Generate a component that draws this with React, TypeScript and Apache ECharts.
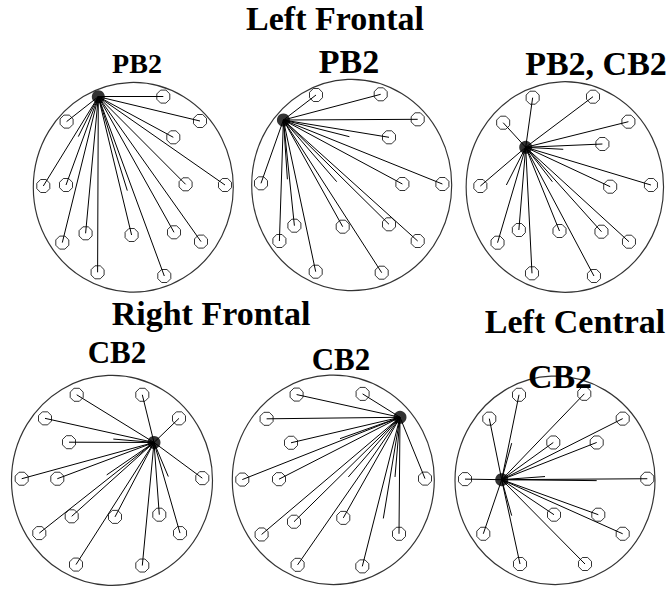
import React, { useEffect, useRef } from "react";
import * as echarts from "echarts";

// Electrode positions per panel, in head coordinates (offset from head centre, y downwards)
const p1Hub = [-35, -90.6];
const p1Electrodes = [
  [30, -90.7], [-66.7, -65.7], [66.7, -66.3], [40, -50], [-90, -1.3], [-67.3, -2.3],
  [52.3, -3], [91.7, -2.3], [-71, 55.3], [-47.7, 46], [-1.7, 47.7], [40.7, 45],
  [67.7, 54.3], [-35.7, 85], [31, 88.7],
];
const p1Stubs = [[-55, -50.7], [-6, 3.3]];

const p2Hub = [-68.3, -65];
const p2Electrodes = [
  [-35.7, -90], [29, -90.7], [66, -65.7], [37.3, -47.7], [-90.7, -1.7], [50.7, -1],
  [90.7, -1], [-57.3, 40.7], [-72.3, 56], [-9, 41.7], [37.3, 39.3], [66, 56],
  [-36, 86.7], [30, 87.7],
];
const p2Stubs = [[-2.3, -48.3], [-15, -3.3], [-64.3, -5.7]];

const p3Hub = [-41.7, -39.7];
const p3Electrodes = [
  [-34.3, -89.3], [30, -90.3], [-65.7, -64.3], [67.7, -65.3], [40, -43], [-90, -1],
  [48.3, -0.3], [91.7, -2], [-71.7, 55.7], [-49, 43], [-5.7, 44], [39, 44.7],
  [68.3, 54.7], [-35, 86.3], [31, 89],
];
const p3Stubs = [[-1.7, -37.7], [-62.3, -2], [-13.3, -5.3]];

const p4Hub = [42, -39.7];
const p4Electrodes = [
  [-35.3, -89.7], [30.3, -89.7], [-67, -65], [67, -65], [-43, -40], [-90.3, -1.7],
  [-54.7, -1.7], [90.3, -2.3], [-72.7, 55.3], [-40.3, 37.7], [3, 38.3], [47.3, 36],
  [68, 55.3], [-36, 88.3], [30.3, 89.3],
];
const p4Stubs = [[1.3, -43.3], [-5.3, -5.7], [56.3, -4]];

const p5Hub = [66.7, -65.3];
const p5Electrodes = [
  [-36.7, -89], [29.3, -89.7], [-66.7, -63.7], [-42.3, -38.7], [-91, -0.3], [-54.3, -0.7],
  [91.7, -1.3], [-71.7, 57], [-39.3, 43.7], [10, 39.7], [65.7, 56.3], [-35.7, 88.7],
  [29, 90.3],
];
const p5Stubs = [[6.7, -43], [15, -3], [50, 40.3], [61.7, -3]];

const p6Hub = [-53.3, -0.7];
const p6Electrodes = [
  [-36, -89.7], [29.3, -90.7], [-65.7, -64.7], [67.7, -64.7], [-1.7, -39.7], [41.7, -39.7],
  [-90, -1.3], [92.3, -1.7], [-1, 36], [43.3, 36], [-71.7, 56], [67.7, 56],
  [-35, 87.7], [30, 87.7],
];
const p6Stubs = [[-43.3, -39], [-10, -4], [41.7, 0.3], [-43.3, 37]];

const panelLabels = ["PB2", "PB2", "PB2, CB2", "CB2", "CB2", "CB2"];
const groupTitles = ["Left Frontal", "Right Frontal", "Left Central"];

// Layout: head centre and radii in pixels, label positions
const panels = [
  { hub: p1Hub, el: p1Electrodes, stubs: p1Stubs, cx: 133.3, cy: 187.3, rx: 100, ry: 104.8, lx: 137, ly: 63, fs: 28 },
  { hub: p2Hub, el: p2Electrodes, stubs: p2Stubs, cx: 351.7, cy: 185, rx: 100, ry: 105.7, lx: 349, ly: 61, fs: 34 },
  { hub: p3Hub, el: p3Electrodes, stubs: p3Stubs, cx: 571.7, cy: 187, rx: 98.7, ry: 105.3, lx: 596, ly: 63, fs: 34 },
  { hub: p4Hub, el: p4Electrodes, stubs: p4Stubs, cx: 112, cy: 485.7, rx: 100.5, ry: 105, lx: 117, ly: 352, fs: 31 },
  { hub: p5Hub, el: p5Electrodes, stubs: p5Stubs, cx: 333.3, cy: 484.7, rx: 101, ry: 104.7, lx: 341, ly: 359, fs: 31 },
  { hub: p6Hub, el: p6Electrodes, stubs: p6Stubs, cx: 555, cy: 485.7, rx: 100, ry: 104.2, lx: 560, ly: 376, fs: 34 },
];
const titlePos = [
  { x: 335, y: 18 },
  { x: 211, y: 313 },
  { x: 575, y: 321 },
];

const OCT = "path://M-0.41,-1L0.41,-1L1,-0.41L1,0.41L0.41,1L-0.41,1L-1,0.41L-1,-0.41Z";
const FONT = "'Liberation Serif', 'Times New Roman', serif";
const HW = 112;
const HH = 116;

export default function App() {
  const ref = useRef<HTMLDivElement>(null);
  useEffect(() => {
    document.body.style.margin = "0";
    const chart = echarts.init(ref.current!, null, { renderer: "svg" });
    const grid: any[] = [];
    const xAxis: any[] = [];
    const yAxis: any[] = [];
    const series: any[] = [];
    panels.forEach((p, i) => {
      grid.push({ left: p.cx - HW, top: p.cy - HH, width: 2 * HW, height: 2 * HH });
      xAxis.push({ gridIndex: i, type: "value", min: -HW, max: HW, show: false });
      yAxis.push({ gridIndex: i, type: "value", min: -HH, max: HH, inverse: true, show: false });
      series.push({
        type: "scatter", xAxisIndex: i, yAxisIndex: i, silent: true, z: 1,
        symbol: "circle", symbolSize: [2 * p.rx, 2 * p.ry],
        itemStyle: { color: "rgba(0,0,0,0)", borderColor: "#000", borderWidth: 1.2 },
        data: [[0, 0]],
      });
      const targets = [...p.el, ...p.stubs];
      series.push({
        type: "lines", coordinateSystem: "cartesian2d", xAxisIndex: i, yAxisIndex: i, silent: true, z: 2,
        lineStyle: { color: "#000", width: 1, opacity: 1 },
        data: targets.map((t) => ({ coords: [p.hub, t] })),
      });
      series.push({
        type: "scatter", xAxisIndex: i, yAxisIndex: i, silent: true, z: 3,
        symbol: OCT, symbolSize: 13,
        itemStyle: { color: "rgba(0,0,0,0)", borderColor: "#000", borderWidth: 1 },
        data: p.el,
      });
      series.push({
        type: "scatter", xAxisIndex: i, yAxisIndex: i, silent: true, z: 4,
        symbol: "circle", symbolSize: 13,
        itemStyle: { color: "#000" },
        data: [p.hub],
      });
    });
    const graphic: any[] = [];
    groupTitles.forEach((t, i) => {
      graphic.push({
        type: "text", x: titlePos[i].x, y: titlePos[i].y, silent: true,
        style: { text: t, fontFamily: FONT, fontWeight: "bold", fontSize: 34, fill: "#000", align: "center", verticalAlign: "middle" },
      });
    });
    panels.forEach((p, i) => {
      graphic.push({
        type: "text", x: p.lx, y: p.ly, silent: true,
        style: { text: panelLabels[i], fontFamily: FONT, fontWeight: "bold", fontSize: p.fs, fill: "#000", align: "center", verticalAlign: "middle" },
      });
    });
    chart.setOption({ animation: false, backgroundColor: "#fff", grid, xAxis, yAxis, series, graphic });
    return () => chart.dispose();
  }, []);
  return <div ref={ref} style={{ width: 670, height: 591 }} />;
}
